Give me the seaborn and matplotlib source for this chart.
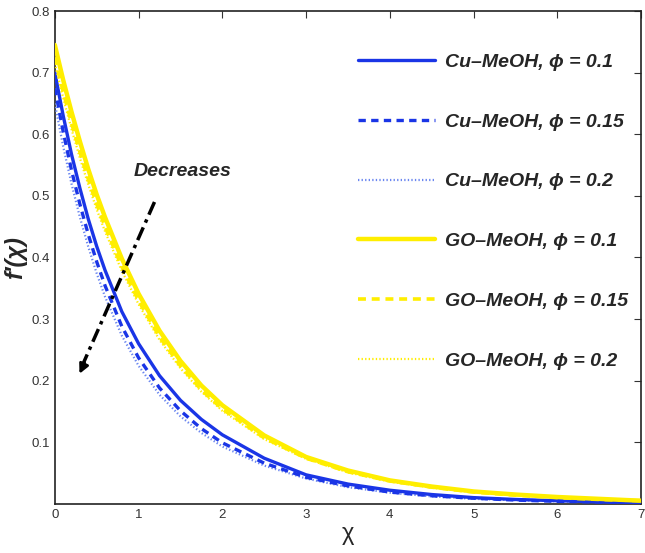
import matplotlib
matplotlib.use("Agg")
import matplotlib.pyplot as plt
import seaborn as sns
import pandas as pd

# ---- data ----
chi = [0, 0.1, 0.2, 0.3, 0.4, 0.5, 0.6, 0.8, 1.0, 1.25, 1.5, 1.75, 2.0,
       2.5, 3.0, 3.5, 4.0, 4.5, 5.0, 5.5, 6.0, 6.5, 7.0]
cu_01 = [0.700, 0.630, 0.567, 0.512, 0.462, 0.418, 0.379, 0.312, 0.260, 0.208,
         0.168, 0.137, 0.112, 0.074, 0.047, 0.032, 0.022, 0.015, 0.010, 0.007,
         0.005, 0.003, 0.002]
cu_015 = [0.675, 0.604, 0.541, 0.486, 0.437, 0.393, 0.354, 0.288, 0.237, 0.188,
          0.151, 0.122, 0.099, 0.066, 0.043, 0.029, 0.019, 0.013, 0.009, 0.006,
          0.004, 0.003, 0.002]
cu_02 = [0.650, 0.580, 0.519, 0.465, 0.417, 0.374, 0.336, 0.273, 0.224, 0.177,
         0.142, 0.115, 0.093, 0.062, 0.041, 0.027, 0.018, 0.012, 0.008, 0.006,
         0.004, 0.003, 0.002]
go_01 = [0.745, 0.688, 0.636, 0.588, 0.543, 0.502, 0.465, 0.398, 0.341, 0.281,
         0.232, 0.192, 0.160, 0.111, 0.076, 0.054, 0.038, 0.028, 0.020, 0.015,
         0.011, 0.008, 0.005]
go_015 = [0.725, 0.669, 0.618, 0.571, 0.527, 0.487, 0.450, 0.385, 0.330, 0.271,
          0.224, 0.185, 0.154, 0.107, 0.074, 0.052, 0.037, 0.027, 0.019, 0.014,
          0.010, 0.007, 0.005]
go_02 = [0.715, 0.659, 0.608, 0.561, 0.518, 0.478, 0.442, 0.378, 0.324, 0.266,
         0.220, 0.182, 0.151, 0.105, 0.073, 0.051, 0.036, 0.026, 0.019, 0.014,
         0.010, 0.007, 0.005]

labels = ["Cu\u2013MeOH, \u03d5 = 0.1", "Cu\u2013MeOH, \u03d5 = 0.15", "Cu\u2013MeOH, \u03d5 = 0.2",
          "GO\u2013MeOH, \u03d5 = 0.1", "GO\u2013MeOH, \u03d5 = 0.15", "GO\u2013MeOH, \u03d5 = 0.2"]
series = [cu_01, cu_015, cu_02, go_01, go_015, go_02]
x_ticks = [0, 1, 2, 3, 4, 5, 6, 7]
y_ticks = [0.1, 0.2, 0.3, 0.4, 0.5, 0.6, 0.7, 0.8]

# ---- style ----
sns.set_theme(style="white")
plt.rcParams["font.family"] = ["Liberation Sans", "DejaVu Sans"]

blue = "#1a35e6"
blue_light = "#6a86f0"
yellow = "#ffee00"
styles = [
    dict(color=blue, linestyle="-", linewidth=2.4, zorder=5),
    dict(color=blue, linestyle=(0, (2.2, 1.6)), linewidth=2.4, zorder=4),
    dict(color=blue_light, linestyle=(0, (0.6, 1.0)), linewidth=1.6, zorder=3),
    dict(color=yellow, linestyle="-", linewidth=3.2, zorder=7),
    dict(color=yellow, linestyle=(0, (2.2, 1.6)), linewidth=2.6, zorder=6),
    dict(color=yellow, linestyle=(0, (0.6, 1.0)), linewidth=1.6, zorder=5),
]

fig = plt.figure(figsize=(6.45, 5.53), dpi=100)
ax = fig.add_axes([0.085, 0.089, 0.909, 0.891])

for lab, vals, st in zip(labels, series, styles):
    df = pd.DataFrame({"chi": chi, "f": vals})
    sns.lineplot(data=df, x="chi", y="f", ax=ax, label=lab, **st)

ax.set_xlim(0, 7)
ax.set_ylim(0, 0.8)
ax.set_xticks(x_ticks)
ax.set_xticklabels([str(t) for t in x_ticks])
ax.set_yticks(y_ticks)
ax.set_yticklabels([f"{t:.1f}" for t in y_ticks])
ax.tick_params(direction="in", top=True, right=True, length=5, width=0.8,
               labelsize=9.5, labelcolor="#333333", colors="#333333")
for s in ax.spines.values():
    s.set_color("#222222")
    s.set_linewidth(1.2)

ax.set_xlabel("\u03c7", fontsize=17, labelpad=2)
ax.set_ylabel("f\u2032(\u03c7)", fontsize=17, fontweight="bold", fontstyle="italic", labelpad=3)

# arrow "Decreases"
ax.plot([1.19, 0.33], [0.49, 0.225], color="black", linestyle=(0, (4, 1.5, 1, 1.5)),
        linewidth=2.5, zorder=9)
ax.annotate("", xy=(0.28, 0.207), xytext=(0.37, 0.233),
            arrowprops=dict(arrowstyle="-|>", color="black", lw=2, mutation_scale=14),
            zorder=10)
ax.text(1.52, 0.54, "Decreases", fontsize=14, fontweight="bold", fontstyle="italic",
        ha="center", va="center")

leg = ax.legend(loc="upper right", bbox_to_anchor=(1.008, 0.95), frameon=False,
                handlelength=4.0, handletextpad=0.5, labelspacing=2.17,
                prop=dict(size=14, weight="bold", style="italic"))

fig.savefig("out.png", dpi=100)
